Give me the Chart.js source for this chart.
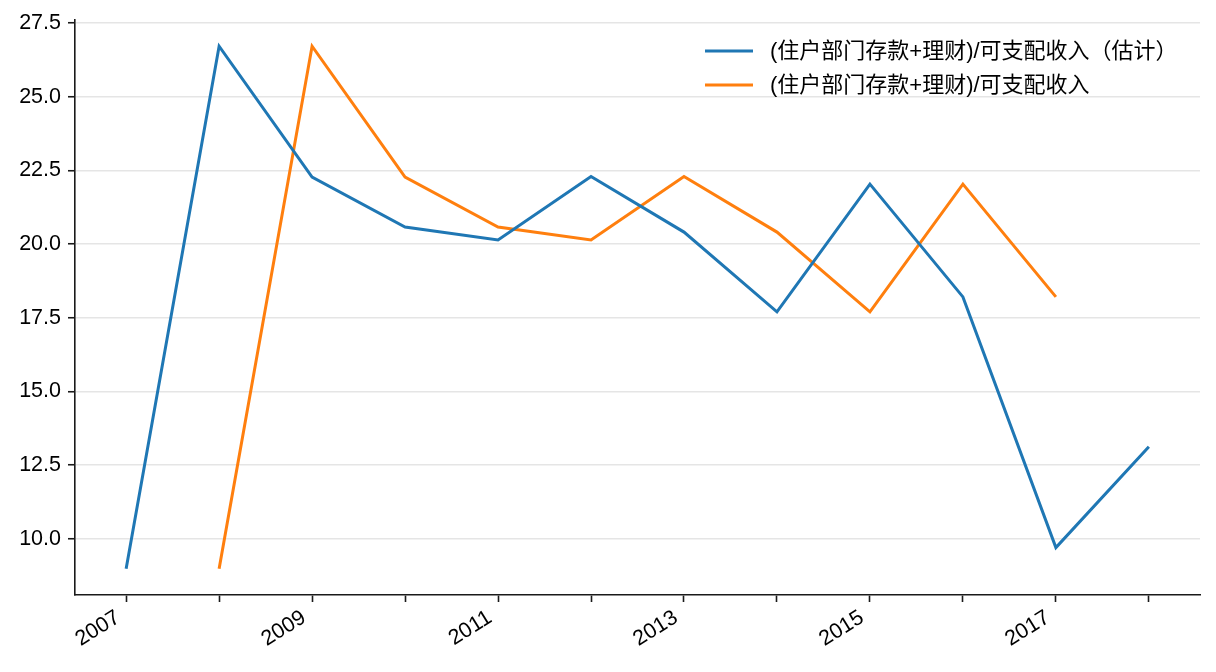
<!DOCTYPE html>
<html>
<head>
<meta charset="utf-8">
<script src="https://cdn.jsdelivr.net/npm/chart.js@4/dist/chart.umd.min.js"></script>
<style>
html,body{margin:0;padding:0;background:#fff;}
#wrap{width:1216px;height:672px;}
</style>
</head>
<body>
<div id="wrap"><canvas id="c" width="1216" height="672"></canvas></div>
<script>
// ---- data ----
const years = [2007, 2008, 2009, 2010, 2011, 2012, 2013, 2014, 2015, 2016, 2017, 2018];
const estimateLabel = "(住户部门存款+理财)/可支配收入（估计）";
const actualLabel = "(住户部门存款+理财)/可支配收入";
const estimateValues = [8.98, 26.72, 22.28, 20.58, 20.14, 22.30, 20.41, 17.70, 22.04, 18.21, 9.70, 13.12];
const actualValues = [null, 8.98, 26.72, 22.28, 20.58, 20.14, 22.30, 20.41, 17.70, 22.04, 18.21, null];
const yTicks = [10.0, 12.5, 15.0, 17.5, 20.0, 22.5, 25.0, 27.5];
const xTickYears = years;

function toPoints(vals) {
  const pts = [];
  years.forEach((yr, i) => { if (vals[i] !== null) pts.push({x: yr, y: vals[i]}); });
  return pts;
}

const AX = '#1a1a1a';
const tickFont = {family: '"Liberation Sans", Arial, sans-serif', size: 21.5};

const legendPlugin = {
  id: 'mplLegend',
  afterDraw(chart) {
    const ctx = chart.ctx;
    ctx.save();
    const rows = chart.data.datasets;
    const x0 = 705, x1 = 753, tx = 770;
    const ys = [51, 85];
    ctx.font = '22px "Liberation Sans", "Noto Sans CJK SC", sans-serif';
    ctx.textBaseline = 'middle';
    ctx.textAlign = 'left';
    rows.forEach((ds, i) => {
      ctx.strokeStyle = ds.borderColor;
      ctx.lineWidth = 3;
      ctx.beginPath();
      ctx.moveTo(x0, ys[i]);
      ctx.lineTo(x1, ys[i]);
      ctx.stroke();
      ctx.fillStyle = '#000';
      ctx.fillText(ds.label, tx, ys[i] + 1);
    });
    ctx.restore();
  }
};

new Chart(document.getElementById('c'), {
  type: 'line',
  data: {
    datasets: [
      {label: estimateLabel, data: toPoints(estimateValues), borderColor: '#1f77b4', backgroundColor: '#1f77b4',
       borderWidth: 3, pointRadius: 0, tension: 0, fill: false},
      {label: actualLabel, data: toPoints(actualValues), borderColor: '#ff7f0e', backgroundColor: '#ff7f0e',
       borderWidth: 3, pointRadius: 0, tension: 0, fill: false}
    ]
  },
  options: {
    responsive: false,
    animation: false,
    devicePixelRatio: 1,
    layout: {padding: {top: 20, right: 16, left: 0, bottom: 0}},
    plugins: {legend: {display: false}, tooltip: {enabled: false}},
    scales: {
      x: {
        type: 'linear',
        min: 2006.45,
        max: 2018.55,
        afterBuildTicks(scale) { scale.ticks = xTickYears.map(v => ({value: v})); },
        afterFit(scale) { scale.height = 77; scale.paddingLeft = 0; scale.paddingRight = 0; },
        ticks: {
          autoSkip: false,
          minRotation: 32,
          maxRotation: 32,
          padding: 3,
          labelOffset: -8,
          color: '#000',
          font: tickFont,
          callback: (v) => (v % 2 === 1 ? String(v) : '')
        },
        grid: {drawOnChartArea: false, drawTicks: true, tickLength: 7, tickColor: AX, tickWidth: 1.6},
        border: {display: true, color: AX, width: 1.6}
      },
      y: {
        min: 8.09,
        max: 27.61,
        afterBuildTicks(scale) { scale.ticks = yTicks.map(v => ({value: v})); },
        afterFit(scale) { scale.width = 75; scale.paddingTop = 0; scale.paddingBottom = 0; },
        ticks: {
          padding: 7,
          color: '#000',
          font: tickFont,
          callback: (v) => Number(v).toFixed(1)
        },
        grid: {color: '#e5e5e5', lineWidth: 1.5, drawTicks: true, tickLength: 7, tickColor: AX, tickWidth: 1.6},
        border: {display: true, color: AX, width: 1.6}
      }
    }
  },
  plugins: [legendPlugin]
});
</script>
</body>
</html>
